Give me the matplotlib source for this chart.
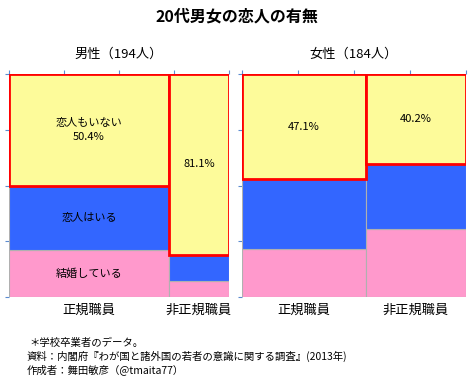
import matplotlib.pyplot as plt

plt.rcParams['font.family'] = ['Noto Sans CJK JP', 'DejaVu Sans']

# data
columns = ['正規職員', '非正規職員']
statuses = ['結婚している', '恋人はいる', '恋人もいない']
colors = ['#FF99CC', '#3366FF', '#FDFB9A']

male_share = [0.727, 0.273]          # share of people in each column (width)
male_married = [21.1, 7.3]
male_partner = [28.5, 11.6]
male_none = [50.4, 81.1]

female_share = [0.553, 0.447]
female_married = [21.5, 30.5]
female_partner = [31.4, 29.3]
female_none = [47.1, 40.2]

panels = [
    ('男性（194人）', male_share, [male_married, male_partner, male_none]),
    ('女性（184人）', female_share, [female_married, female_partner, female_none]),
]

fig = plt.figure(figsize=(4.74, 3.89), dpi=100)
fig.text(0.5, 0.958, '20代男女の恋人の有無', ha='center', va='center',
         fontsize=11.5, fontweight='bold')

axes_pos = [[0.019, 0.2365, 0.464, 0.573], [0.5105, 0.2365, 0.472, 0.573]]

for p, (title, share, series) in enumerate(panels):
    ax = fig.add_axes(axes_pos[p])
    lefts = [0, share[0]]
    bottoms = [0.0, 0.0]
    for k, vals in enumerate(series):
        heights = [v / 100 for v in vals]
        if k == 2:
            ax.bar(lefts, heights, width=share, bottom=bottoms, align='edge',
                   color=colors[k], edgecolor='#FF0000', linewidth=2, zorder=3)
        else:
            ax.bar(lefts, heights, width=share, bottom=bottoms, align='edge',
                   color=colors[k], edgecolor='#b0b0b0', linewidth=0.8, zorder=2)
        # labels inside bars
        for j in range(2):
            cx = lefts[j] + share[j] / 2
            cy = bottoms[j] + heights[j] / 2
            if k == 2:
                if p == 0 and j == 0:
                    txt = '%s\n%.1f%%' % (statuses[k], vals[j])
                else:
                    txt = '%.1f%%' % vals[j]
                ax.text(cx, cy, txt, ha='center', va='center', fontsize=8,
                        linespacing=1.5, zorder=4)
            elif p == 0 and j == 0:
                ax.text(cx, cy, statuses[k], ha='center', va='center',
                        fontsize=8, zorder=4)
        bottoms = [bottoms[j] + heights[j] for j in range(2)]

    ax.set_xlim(0, 1)
    ax.set_ylim(0, 1)
    for s in ax.spines.values():
        s.set_visible(False)
    ax.set_yticks([0, 0.25, 0.5, 0.75, 1])
    ax.set_yticklabels([])
    ax.tick_params(axis='y', direction='out', length=3, color='#5b8bd0')
    ax.set_xticks([0, 0.25, 0.5, 0.75, 1])
    ax.set_xticklabels([])
    ax.tick_params(axis='x', top=True, bottom=False, direction='out',
                   length=3, color='#5b8bd0')
    for j in range(2):
        ax.text(lefts[j] + share[j] / 2, -0.03, columns[j], ha='center',
                va='top', fontsize=9.5, transform=ax.transAxes)
    ax.text(0.5, 1.09, title, ha='center', va='center', fontsize=9.5,
            transform=ax.transAxes)

fig.text(0.062, 0.118, '＊学校卒業者のデータ。', fontsize=7.5, va='center')
fig.text(0.057, 0.085, '資料：内閣府『わが国と諸外国の若者の意識に関する調査』(2013年)',
         fontsize=7.5, va='center')
fig.text(0.057, 0.051, '作成者：舞田敏彦（@tmaita77）', fontsize=7.5, va='center')

fig.savefig('out.png', dpi=100)
